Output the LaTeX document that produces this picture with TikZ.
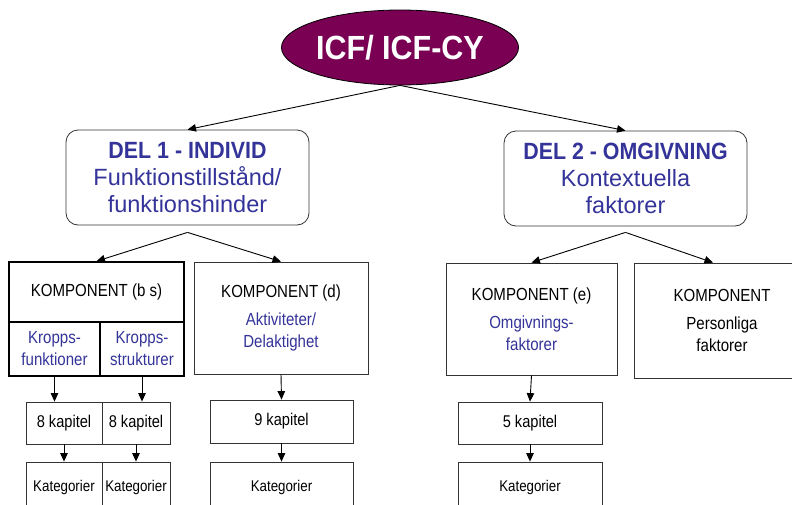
\documentclass[tikz,border=0pt]{standalone}
\usepackage{fontspec}
\setmainfont{Liberation Sans}
\newfontfamily\condfont{Liberation Sans}[FakeStretch=0.86]
\newfontfamily\semicondfont{Liberation Sans}[FakeStretch=0.91]
\usepackage{xcolor}
\usepackage{tikz}
\usetikzlibrary{shapes.geometric,arrows.meta}
\definecolor{icfpurple}{RGB}{122,0,84}
\definecolor{icfblue}{RGB}{51,51,153}
\tikzset{
  box/.style={draw=black!80, line width=0.8pt, rectangle, inner sep=0pt, align=center},
  thickbox/.style={box, draw=black, line width=1.6pt},
  conn/.style={-{Triangle[length=8.5pt,width=7.5pt]}, line width=0.9pt},
  compfont/.style={font=\condfont\fontsize{17.5}{22}\selectfont},
  delfont/.style={font=\fontsize{23.5}{27}\selectfont, text=icfblue},
}

\begin{document}
\begin{tikzpicture}[x=1pt,y=-1pt]
		\useasboundingbox (0,0) rectangle (792,504);
		\clip (0,0) rectangle (792,504);

		\node[ellipse, draw=black, line width=0.8pt, fill=icfpurple, text=white, inner sep=0pt,
			minimum width=226pt, minimum height=75pt,
			font=\semicondfont\bfseries\fontsize{33.5}{36}\selectfont] (icf) at (400,47.5) {ICF/ ICF-CY};

		\node[box, delfont, rounded corners=12pt, minimum width=243pt, minimum height=95pt] (del1) at (187.5,177.5)
			{{\semicondfont\bfseries DEL 1 - INDIVID}\\Funktionstillstånd/\\funktionshinder};
		\node[box, delfont, rounded corners=12pt, minimum width=243pt, minimum height=95pt] (del2) at (625.5,178.5)
			{{\semicondfont\bfseries DEL 2 - OMGIVNING}\\Kontextuella\\faktorer};

		\draw[conn] (icf.south) -- (del1.north);
		\draw[conn] (icf.south) -- (del2.north);

		\coordinate (del1b) at ([yshift=-7pt]del1.south);
		\coordinate (del2b) at ([yshift=-6pt]del2.south);

		\node[thickbox, compfont, minimum width=175pt, minimum height=60pt] (kompbs) at (96.5,292) {KOMPONENT (b s)};
		\node[thickbox, compfont, text=icfblue, minimum width=91pt, minimum height=54pt] (kroppsf) at (54.5,349) {Kropps-\\funktioner};
		\node[thickbox, compfont, text=icfblue, minimum width=84pt, minimum height=54pt] (kroppss) at (142,349) {Kropps-\\strukturer};
		\node[box, compfont, minimum width=174pt, minimum height=112pt] (kompd) at (281,318)
			{KOMPONENT (d)\\[6pt]{\color{icfblue}Aktiviteter/}\\{\color{icfblue}Delaktighet}};
		\node[box, compfont, minimum width=171pt, minimum height=112pt] (kompe) at (531.5,319)
			{KOMPONENT (e)\\[6pt]{\color{icfblue}Omgivnings-}\\{\color{icfblue}faktorer}};
		\node[box, compfont, minimum width=176pt, minimum height=115pt] (kompp) at (722,320.5)
			{KOMPONENT\\[6pt]Personliga\\faktorer};

		\draw[conn] (del1b) -- (kompbs.north);
		\draw[conn] (del1b) -- (kompd.north);
		\draw[conn] (del2b) -- (kompe.north);
		\draw[conn] (del2b) -- ([xshift=-9pt]kompp.north);

		\node[box, compfont, font=\condfont\fontsize{17}{20}\selectfont, minimum width=76pt, minimum height=42pt] (kap1) at (64,423) {8 kapitel};
		\node[box, compfont, font=\condfont\fontsize{17}{20}\selectfont, minimum width=68pt, minimum height=42pt] (kap2) at (136,423) {8 kapitel};
		\node[box, compfont, font=\condfont\fontsize{17}{20}\selectfont, minimum width=143pt, minimum height=43pt] (kap9) at (281.5,421.5) {9 kapitel};
		\node[box, compfont, font=\condfont\fontsize{17}{20}\selectfont, minimum width=144pt, minimum height=42pt] (kap5) at (530,423) {5 kapitel};

		\node[box, font=\condfont\fontsize{15.5}{18}\selectfont, minimum width=76pt, minimum height=50pt] (kat1) at (64,487) {Kategorier};
		\node[box, font=\condfont\fontsize{15.5}{18}\selectfont, minimum width=68pt, minimum height=50pt] (kat2) at (136,487) {Kategorier};
		\node[box, font=\condfont\fontsize{15.5}{18}\selectfont, minimum width=143pt, minimum height=50pt] (kat9) at (281.5,487) {Kategorier};
		\node[box, font=\condfont\fontsize{15.5}{18}\selectfont, minimum width=144pt, minimum height=50pt] (kat5) at (530,487) {Kategorier};

		\draw[conn] (kroppsf.south) -- (kroppsf.south |- kap1.north);
		\draw[conn] (kroppss.south) -- (kroppss.south |- kap2.north);
		\draw[conn] (kompd.south) -- (kap9.north);
		\draw[conn] (kompe.south) -- (kap5.north);

		\draw[conn] (kap1.south) -- (kat1.north);
		\draw[conn] (kap2.south) -- (kat2.north);
		\draw[conn] (kap9.south) -- (kat9.north);
		\draw[conn] (kap5.south) -- (kat5.north);
	\end{tikzpicture}
\end{document}
